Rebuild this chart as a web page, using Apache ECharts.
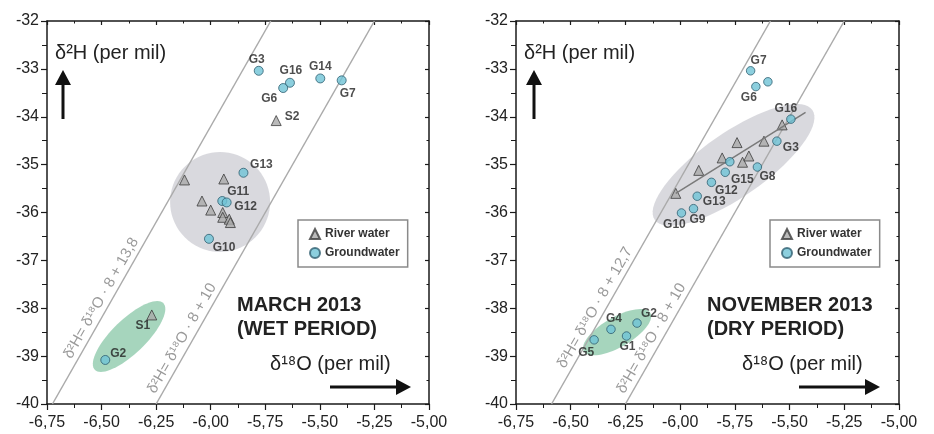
<!DOCTYPE html>
<html>
<head>
<meta charset="utf-8">
<script src="https://cdn.jsdelivr.net/npm/echarts@6/dist/echarts.min.js"></script>
<style>
  html, body { margin: 0; padding: 0; background: #fff; }
  #chart { width: 934px; height: 434px; }
</style>
</head>
<body>
<div id="chart"></div>
<script>
const xTickLabels = ['-6,75', '-6,50', '-6,25', '-6,00', '-5,75', '-5,50', '-5,25', '-5,00'];
const yTickLabels = ['-40', '-39', '-38', '-37', '-36', '-35', '-34', '-33', '-32'];

// March 2013, wet period: [δ18O, δ2H, sample]
const marchRiver = [
  [-5.70, -34.08, 'S2'],
  [-6.12, -35.32, ''],
  [-5.94, -35.30, ''],
  [-6.04, -35.76, ''],
  [-6.00, -35.95, ''],
  [-5.945, -36.00, ''],
  [-5.945, -36.10, ''],
  [-5.915, -36.14, ''],
  [-5.91, -36.21, ''],
  [-6.27, -38.14, 'S1']
];
const marchGround = [
  [-5.78, -33.04, 'G3'],
  [-5.637, -33.29, 'G16'],
  [-5.668, -33.40, 'G6'],
  [-5.498, -33.20, 'G14'],
  [-5.40, -33.24, 'G7'],
  [-5.85, -35.17, 'G13'],
  [-5.947, -35.76, 'G11'],
  [-5.927, -35.79, 'G12'],
  [-6.008, -36.55, 'G10'],
  [-6.483, -39.08, 'G2']
];

// November 2013, dry period
const novRiver = [
  [-6.02, -35.60, ''],
  [-5.915, -35.12, ''],
  [-5.808, -34.86, ''],
  [-5.74, -34.54, ''],
  [-5.715, -34.95, ''],
  [-5.686, -34.82, ''],
  [-5.617, -34.51, ''],
  [-5.534, -34.17, '']
];
const novGround = [
  [-5.678, -33.04, 'G7'],
  [-5.654, -33.37, 'G6'],
  [-5.599, -33.27, ''],
  [-5.494, -34.05, 'G16'],
  [-5.558, -34.51, 'G3'],
  [-5.647, -35.05, 'G8'],
  [-5.773, -34.94, ''],
  [-5.794, -35.16, 'G15'],
  [-5.857, -35.37, 'G12'],
  [-5.922, -35.66, 'G13'],
  [-5.939, -35.92, 'G9'],
  [-5.994, -36.01, 'G10'],
  [-6.197, -38.31, 'G2'],
  [-6.316, -38.44, 'G4'],
  [-6.245, -38.58, 'G1'],
  [-6.393, -38.66, 'G5']
];
const novTrend = [[-6.02, -35.60], [-5.427, -33.91]];

// meteoric water lines
const marchLines = [
  { eq: 'δ²H= δ¹⁸O · 8 + 13,8', from: [-6.725, -40], to: [-5.725, -32] },
  { eq: 'δ²H= δ¹⁸O · 8 + 10', from: [-6.25, -40], to: [-5.25, -32] }
];
const novLines = [
  { eq: 'δ²H= δ¹⁸O · 8 + 12,7', from: [-6.5875, -40], to: [-5.5875, -32] },
  { eq: 'δ²H= δ¹⁸O · 8 + 10', from: [-6.25, -40], to: [-5.25, -32] }
];

// sample groups: [cx, cy, axis1 dx, axis1 dy, axis2 dx, axis2 dy]
const marchGrayZone = [[-5.957, -35.78, 0.229, 0, 0, 1.044]];
const marchGreenZone = [[-6.374, -38.59, 0.157, 0.695, -0.054, 0.254]];
const novGrayZone = [[-5.756, -35.006, 0.360, 1.148, -0.084, 0.547]];
const novGreenZone = [[-6.288, -38.50, 0.152, 0.401, -0.034, 0.271]];

// label placement (px offsets from marker centre)
const marchLabelOffsets = {
  G3: [-2, -11], G16: [1, -12], G6: [-14, 11], G14: [0, -12], G7: [6, 13],
  S2: [16, -4], G13: [18, -8], G11: [16, -9], G12: [19, 4], G10: [15, 9],
  S1: [-9, 11], G2: [13, -6]
};
const novLabelOffsets = {
  G7: [8, -10], G6: [-7, 11], G16: [-5, -10], G3: [14, 7], G8: [10, 10],
  G15: [17, 7], G12: [15, 8], G13: [17, 5], G9: [4, 11], G10: [-7, 12],
  G2: [12, -9], G4: [3, -11], G1: [1, 11], G5: [-8, 13]
};
const lineLabelShift = { march: [48, 8], nov: [37, 8] };

const FONT = '"Liberation Sans", Arial, sans-serif';
const AXIS = '#1a1a1a';

function xAxis(grid, top) {
  return {
    type: 'value', gridIndex: grid, position: top ? 'top' : 'bottom',
    min: -6.75, max: -5, interval: 0.25,
    axisLine: { show: true, onZero: false, lineStyle: { color: AXIS, width: 1.5 } },
    axisTick: { show: true, inside: top, length: top ? 4 : 6, lineStyle: { color: AXIS, width: 1.2 } },
    minorTick: { show: true, splitNumber: 2, length: top ? 2.5 : 4, lineStyle: { color: AXIS, width: 1 } },
    splitLine: { show: false }, minorSplitLine: { show: false },
    axisLabel: { show: !top, margin: 11, fontSize: 16, color: '#222', fontFamily: FONT,
      formatter: (v, i) => xTickLabels[i] }
  };
}
function yAxis(grid, right) {
  return {
    type: 'value', gridIndex: grid, position: right ? 'right' : 'left',
    min: -40, max: -32, interval: 1,
    axisLine: { show: true, onZero: false, lineStyle: { color: AXIS, width: 1.5 } },
    axisTick: { show: true, inside: right, length: right ? 4 : 6, lineStyle: { color: AXIS, width: 1.2 } },
    minorTick: { show: true, splitNumber: 2, length: right ? 2.5 : 5, lineStyle: { color: AXIS, width: 1 } },
    splitLine: { show: false }, minorSplitLine: { show: false },
    axisLabel: { show: !right, margin: 8, fontSize: 16, color: '#222', fontFamily: FONT,
      formatter: (v, i) => yTickLabels[i] }
  };
}

function zoneSeries(data, color, xi, yi) {
  return {
    type: 'custom', xAxisIndex: xi, yAxisIndex: yi, z: 1, silent: true,
    data: data,
    renderItem: function (params, api) {
      const cx = api.value(0), cy = api.value(1);
      const ax = api.value(2), ay = api.value(3), bx = api.value(4), by = api.value(5);
      const pts = [];
      for (let k = 0; k < 72; k++) {
        const t = k / 72 * Math.PI * 2;
        pts.push(api.coord([cx + Math.cos(t) * ax + Math.sin(t) * bx,
                            cy + Math.cos(t) * ay + Math.sin(t) * by]));
      }
      return { type: 'polygon', shape: { points: pts }, style: { fill: color } };
    }
  };
}

function lineSeries(line, xi, yi) {
  return {
    type: 'line', xAxisIndex: xi, yAxisIndex: yi, z: 2, silent: true,
    symbol: 'none', data: [line.from, line.to],
    lineStyle: { color: '#aaaaaa', width: 1.5 }
  };
}

// equation text running along each line, above its lower end
function eqLabelSeries(lines, shifts, xi, yi) {
  return {
    type: 'custom', xAxisIndex: xi, yAxisIndex: yi, z: 3, silent: true,
    data: lines.map(l => [l.from[0], l.from[1], l.to[0], l.to[1]]),
    renderItem: function (params, api) {
      const p1 = api.coord([api.value(0), api.value(1)]);
      const p2 = api.coord([api.value(2), api.value(3)]);
      const dx = p2[0] - p1[0], dy = p2[1] - p1[1];
      const len = Math.sqrt(dx * dx + dy * dy);
      const ux = dx / len, uy = dy / len;
      const shift = shifts[params.dataIndex], gap = 2.5;
      return {
        type: 'text',
        x: p1[0] + ux * shift + uy * gap,
        y: p1[1] + uy * shift - ux * gap,
        rotation: Math.atan2(-dy, dx),
        style: { text: lines[params.dataIndex].eq, fill: '#9a9a9a',
          font: '15px ' + FONT, align: 'left', verticalAlign: 'bottom' }
      };
    }
  };
}

function pointItems(rows, offsets) {
  return rows.map(r => ({
    value: [r[0], r[1]], name: r[2],
    label: r[2] ? { show: true, position: 'inside', offset: offsets[r[2]] || [0, -11] } : { show: false }
  }));
}

const labelStyle = { formatter: p => p.name, color: '#222', fontSize: 12, fontWeight: 'bold', fontFamily: FONT };

function riverSeries(rows, offsets, xi, yi) {
  return {
    name: 'River water', type: 'scatter', xAxisIndex: xi, yAxisIndex: yi, z: 4,
    symbol: 'triangle', symbolSize: 10,
    itemStyle: { color: '#a9a9a9', borderColor: '#3c3c3c', borderWidth: 1 },
    label: labelStyle, data: pointItems(rows, offsets)
  };
}
function groundSeries(rows, offsets, size, xi, yi) {
  return {
    name: 'Groundwater', type: 'scatter', xAxisIndex: xi, yAxisIndex: yi, z: 5,
    symbol: 'circle', symbolSize: size,
    itemStyle: { color: '#6fc3d6', borderColor: '#2f5f70', borderWidth: 1 },
    label: labelStyle, data: pointItems(rows, offsets)
  };
}

function legend(left) {
  return {
    left: left, top: 220, orient: 'vertical', itemGap: 7, itemWidth: 10, itemHeight: 10,
    padding: [8, 8, 8, 11], borderColor: '#8a8a8a', borderWidth: 1.5, backgroundColor: '#fff',
    selectedMode: false,
    textStyle: { fontSize: 12, fontWeight: 'bold', color: '#333', fontFamily: FONT },
    data: ['River water', 'Groundwater']
  };
}

function arrowUp(x) {
  return [
    { type: 'rect', shape: { x: x - 1.5, y: 84, width: 3, height: 35 }, style: { fill: '#111' } },
    { type: 'polygon', shape: { points: [[x - 8, 85], [x + 8, 85], [x, 70]] }, style: { fill: '#111' } }
  ];
}
function arrowRight(x, y) {
  return [
    { type: 'rect', shape: { x: x, y: y - 1.5, width: 68, height: 3 }, style: { fill: '#111' } },
    { type: 'polygon', shape: { points: [[x + 66, y - 8], [x + 66, y + 8], [x + 81, y]] }, style: { fill: '#111' } }
  ];
}
function text(x, y, str, size, weight, lh) {
  return { type: 'text', left: x, top: y, z: 10,
    style: { text: str, fill: '#222', font: (weight || 'normal') + ' ' + size + 'px ' + FONT, lineHeight: lh || size } };
}

const chart = echarts.init(document.getElementById('chart'));
chart.setOption({
  animation: false,
  backgroundColor: '#fff',
  grid: [
    { left: 47, top: 21, width: 382, height: 383 },
    { left: 516, top: 21, width: 383, height: 383 }
  ],
  xAxis: [xAxis(0, false), xAxis(0, true), xAxis(1, false), xAxis(1, true)],
  yAxis: [yAxis(0, false), yAxis(0, true), yAxis(1, false), yAxis(1, true)],
  legend: [legend(298), legend(770)],
  graphic: [
    text(55, 43, 'δ²H (per mil)', 20),
    text(524, 43, 'δ²H (per mil)', 20),
    text(270, 354, 'δ¹⁸O (per mil)', 20),
    text(742, 354, 'δ¹⁸O (per mil)', 20),
    text(237, 293, 'MARCH 2013\n(WET PERIOD)', 20, 'bold', 24),
    text(707, 293, 'NOVEMBER 2013\n(DRY PERIOD)', 20, 'bold', 24),
    ...arrowUp(63), ...arrowUp(534),
    ...arrowRight(330, 387), ...arrowRight(799, 387)
  ],
  series: [
    zoneSeries(marchGrayZone, 'rgba(210,210,216,0.85)', 0, 0),
    zoneSeries(marchGreenZone, 'rgba(150,206,178,0.85)', 0, 0),
    lineSeries(marchLines[0], 0, 0),
    lineSeries(marchLines[1], 0, 0),
    eqLabelSeries(marchLines, lineLabelShift.march, 0, 0),
    riverSeries(marchRiver, marchLabelOffsets, 0, 0),
    groundSeries(marchGround, marchLabelOffsets, 9, 0, 0),

    zoneSeries(novGrayZone, 'rgba(210,210,216,0.85)', 2, 2),
    zoneSeries(novGreenZone, 'rgba(150,206,178,0.85)', 2, 2),
    lineSeries(novLines[0], 2, 2),
    lineSeries(novLines[1], 2, 2),
    eqLabelSeries(novLines, lineLabelShift.nov, 2, 2),
    {
      type: 'line', xAxisIndex: 2, yAxisIndex: 2, z: 3, silent: true, symbol: 'none', data: [],
      markLine: {
        silent: true, animation: false, symbol: ['none', 'arrow'], symbolSize: [0, 9],
        lineStyle: { color: '#7a7a7a', width: 1.5, type: 'solid' }, label: { show: false },
        data: [[{ coord: novTrend[0] }, { coord: novTrend[1] }]]
      }
    },
    riverSeries(novRiver, novLabelOffsets, 2, 2),
    groundSeries(novGround, novLabelOffsets, 8.5, 2, 2)
  ]
});
</script>
</body>
</html>
